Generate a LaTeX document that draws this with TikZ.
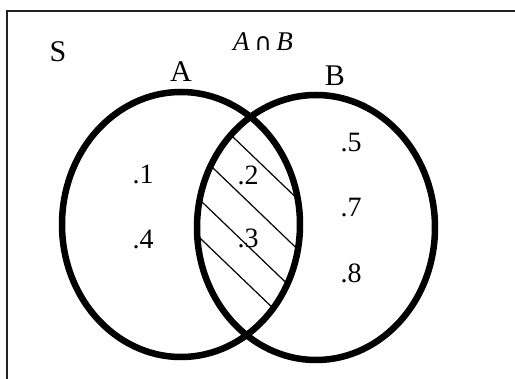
\documentclass[tikz,border=0pt]{standalone}
\usepackage{fontspec}
\setmainfont{Liberation Serif}
\newfontfamily\opfont{DejaVu Sans}
\usepackage{tikz}
\usetikzlibrary{positioning}
\definecolor{vnblack}{HTML}{000000}
\definecolor{vnframe}{HTML}{222222}

\begin{document}
\begin{tikzpicture}[
  x=1pt, y=-1pt,
  setline/.style={draw=vnblack, line width=6.5pt},
  hatch/.style={draw=vnblack, line width=1.2pt},
  lbl/.style={inner sep=0pt, font=\fontsize{30}{36}\selectfont},
  elem/.style={inner sep=0pt, font=\fontsize{28}{34}\selectfont},
]
  \useasboundingbox (0,0) rectangle (515,379);
  \clip (0,0) rectangle (515,379);
  \draw[vnframe, line width=1.4pt] (540,11) -- (7,11) -- (7,400);

  \coordinate (cA) at (181,224.5);
  \coordinate (cB) at (316,227.5);

  \begin{scope}
    \clip (cA) ellipse [x radius=119pt, y radius=132.5pt];
    \clip (cB) ellipse [x radius=119pt, y radius=132.5pt];
    \foreach \sx/\sy in {233/137, 213/168, 202/202, 202/240}
      \draw[hatch] (\sx-30,\sy-28.8) -- ++(160,153.6);
  \end{scope}

  \draw[setline] (cA) ellipse [x radius=119pt, y radius=132.5pt];
  \draw[setline] (cB) ellipse [x radius=119pt, y radius=132.5pt];

  \node[lbl] (labS) at (58,52) {S};
  \node[lbl] (labA) at (181,72) {A};
  \node[lbl] (labB) at (335,76) {B};
  \node[lbl, font=\fontsize{27}{32}\selectfont] (labAB) at (263,42)
    {\textit{A}\,{\opfont\fontsize{24}{28}\selectfont ∩}\,\textit{B}};

  \node[elem] (e1) at (143,174) {.1};
  \node[elem] (e4) at (143,239) {.4};
  \node[elem] (e2) at (248,175) {.2};
  \node[elem] (e3) at (248,238) {.3};
  \node[elem] (e5) at (351,143) {.5};
  \node[elem] (e7) at (351,208) {.7};
  \node[elem] (e8) at (351,273) {.8};
\end{tikzpicture}
\end{document}
